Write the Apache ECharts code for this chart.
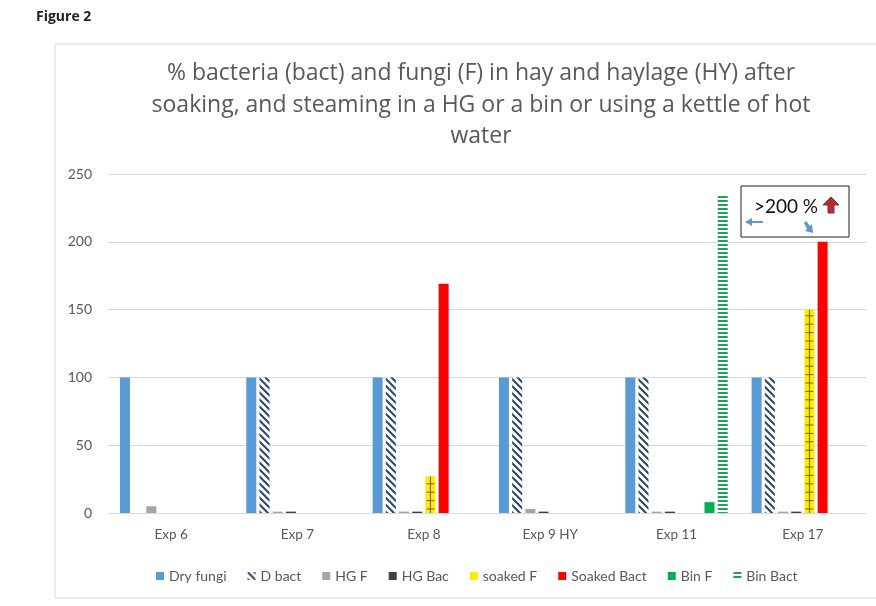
<!DOCTYPE html>
<html>
<head>
<meta charset="utf-8">
<script src="https://cdn.jsdelivr.net/npm/echarts@6/dist/echarts.min.js"></script>
<style>
  html, body { margin: 0; padding: 0; background: #fff; }
  #chart { width: 876px; height: 606px; }
</style>
</head>
<body>
<div id="chart"></div>
<script>
// categories and values
const experiments = ['Exp 6', 'Exp 7', 'Exp 8', 'Exp 9 HY', 'Exp 11', 'Exp 17'];
const dryFungi = [100, 100, 100, 100, 100, 100];
const dBact = [0, 100, 100, 100, 100, 100];
const hgF = [5, 1, 1, 3, 1, 1];
const hgBac = [0, 1, 1, 1, 1, 1];
const soakedF = [0, 0, 27, 0, 0, 150];
const soakedBact = [0, 0, 169, 0, 0, 200];
const binF = [0, 0, 0, 0, 8, 0];
const binBact = [0, 0, 0, 0, 234, 0];
const yTicks = [0, 50, 100, 150, 200, 250];

const FONT = 'Lato';
const TITLE_FONT = 'Open Sans';
const BAR_W = 10;
const BAR_GAP = 3.2;

// hatch fill helpers
function makePattern(w, h, draw) {
  const c = document.createElement('canvas');
  c.width = w; c.height = h;
  const ctx = c.getContext('2d');
  draw(ctx, w, h);
  return { image: c, repeat: 'repeat' };
}

const diagPattern = makePattern(7, 7, (ctx, w, h) => {
  ctx.fillStyle = '#fff';
  ctx.fillRect(0, 0, w, h);
  ctx.strokeStyle = '#2a4767';
  ctx.lineWidth = 2;
  ctx.beginPath();
  ctx.moveTo(-1, -1); ctx.lineTo(w + 1, h + 1);
  ctx.moveTo(w - 1, -1); ctx.lineTo(2 * w + 1, h + 1);
  ctx.moveTo(-w - 1, -1); ctx.lineTo(1, h + 1);
  ctx.stroke();
});

const stripePattern = makePattern(4, 4, (ctx, w, h) => {
  ctx.fillStyle = '#fff';
  ctx.fillRect(0, 0, w, h);
  ctx.fillStyle = '#1fa35a';
  ctx.fillRect(0, 0, w, 2);
});

const chart = echarts.init(document.getElementById('chart'));

function barSeries(name, data, color) {
  return {
    name: name,
    type: 'bar',
    data: data,
    barWidth: BAR_W,
    barGap: (BAR_GAP / BAR_W * 100) + '%',
    itemStyle: { color: color },
    emphasis: { disabled: true }
  };
}

// cross marks drawn on top of the soaked F bars
function soakedMarks(params, api) {
  const idx = api.value(0);
  const val = api.value(1);
  if (!val) return null;
  const top = api.coord([idx, val]);
  const base = api.coord([idx, 0]);
  const k = 4; // series position within the group
  const offset = -(8 * BAR_W + 7 * BAR_GAP) / 2 + k * (BAR_W + BAR_GAP) + BAR_W / 2;
  const cx = base[0] + offset;
  const children = [{
    type: 'line',
    shape: { x1: cx, y1: top[1], x2: cx, y2: base[1] },
    style: { stroke: '#7a5c12', lineWidth: 1 }
  }];
  for (let y = base[1] - 4; y > top[1] + 1; y -= 8.4) {
    children.push({
      type: 'line',
      shape: { x1: cx - 4, y1: y, x2: cx + 4, y2: y },
      style: { stroke: '#7a5c12', lineWidth: 1 }
    });
  }
  return { type: 'group', children: children };
}

const seriesNames = ['Dry fungi', 'D bact', 'HG F', 'HG Bac', 'soaked F', 'Soaked Bact', 'Bin F', 'Bin Bact'];

const option = {
  animation: false,
  textStyle: { fontFamily: FONT },
  graphic: [
    {
      type: 'rect',
      shape: { x: 55, y: 44, width: 900, height: 554 },
      style: { fill: 'none', stroke: '#d9d9d9', lineWidth: 1 },
      z: -10
    },
    {
      type: 'text',
      x: 36, y: 17,
      style: { text: 'Figure 2', font: 'bold 14px ' + TITLE_FONT, fill: '#222', verticalAlign: 'middle' }
    },
    {
      type: 'text',
      x: 481, y: 58,
      style: {
        text: '% bacteria (bact) and fungi (F) in hay and haylage (HY) after\nsoaking, and steaming in a HG or a bin or using a kettle of hot\nwater',
        font: '23px ' + TITLE_FONT,
        fill: '#595959',
        align: 'center',
        lineHeight: 31.5
      }
    },
    // ">200 %" call-out
    {
      type: 'rect',
      shape: { x: 741, y: 186, width: 108, height: 51 },
      style: { fill: '#fff', stroke: '#222', lineWidth: 1 },
      z: 20
    },
    {
      type: 'text',
      x: 786, y: 207,
      style: { text: '>200 %', font: '19px ' + FONT, fill: '#111', align: 'center', verticalAlign: 'middle' },
      z: 21
    },
    {
      type: 'polygon',
      shape: { points: [[831, 197], [839, 205], [834, 205], [834, 213], [828, 213], [828, 205], [823, 205]] },
      style: { fill: '#c0272d', stroke: '#6b3a45', lineWidth: 1 },
      z: 21
    },
    {
      type: 'polygon',
      shape: { points: [[745, 222], [752, 218], [752, 221], [763, 221], [763, 223], [752, 223], [752, 226]] },
      style: { fill: '#5b9bd5' },
      z: 21
    },
    {
      type: 'polygon',
      shape: { points: [[804, 223], [806, 221], [810, 226], [812, 224], [813, 233], [805, 231], [807, 229]] },
      style: { fill: '#5b9bd5' },
      z: 21
    }
  ],
  legend: {
    data: seriesNames,
    left: 151,
    top: 564,
    icon: 'rect',
    itemWidth: 8,
    itemHeight: 8,
    itemGap: 21,
    textStyle: { fontSize: 14, color: '#595959', fontFamily: FONT }
  },
  grid: { left: 108, right: 10, top: 174, bottom: 93, containLabel: false },
  xAxis: {
    type: 'category',
    data: experiments,
    axisLine: { lineStyle: { color: '#d9d9d9' } },
    axisTick: { show: false },
    axisLabel: { color: '#595959', fontSize: 13.5, margin: 15 }
  },
  yAxis: {
    type: 'value',
    min: yTicks[0],
    max: yTicks[yTicks.length - 1],
    interval: yTicks[1] - yTicks[0],
    axisLine: { show: false },
    axisTick: { show: false },
    splitLine: { lineStyle: { color: '#d9d9d9' } },
    axisLabel: { color: '#595959', fontSize: 14, margin: 16 }
  },
  series: [
    barSeries('Dry fungi', dryFungi, '#5b9bd5'),
    barSeries('D bact', dBact, diagPattern),
    barSeries('HG F', hgF, '#a5a5a5'),
    barSeries('HG Bac', hgBac, '#404040'),
    barSeries('soaked F', soakedF, '#ffec00'),
    barSeries('Soaked Bact', soakedBact, '#ff0000'),
    barSeries('Bin F', binF, '#00b050'),
    barSeries('Bin Bact', binBact, stripePattern),
    {
      name: 'soaked F marks',
      type: 'custom',
      renderItem: soakedMarks,
      data: soakedF.map((v, i) => [i, v]),
      z: 5,
      silent: true
    }
  ]
};

chart.setOption(option);
</script>
</body>
</html>
